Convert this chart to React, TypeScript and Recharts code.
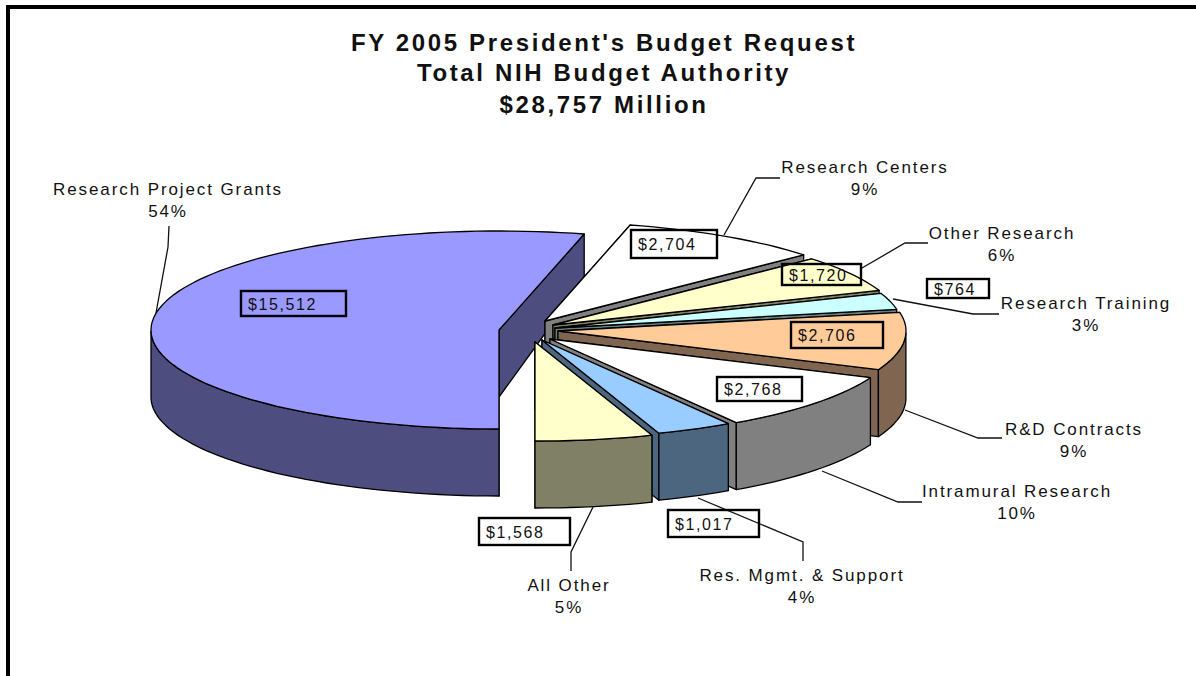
import React from 'react';
import { PieChart, Pie } from 'recharts';

const titleLines = ["FY 2005 President's Budget Request", 'Total NIH Budget Authority', '$28,757 Million'];
const categories = ['Research Project Grants', 'Research Centers', 'Other Research', 'Research Training', 'R&D Contracts', 'Intramural Research', 'Res. Mgmt. & Support', 'All Other'];
const budgetMillions = [15512, 2704, 1720, 764, 2706, 2768, 1017, 1568];
const topColors = ['#9999FF', '#FFFFFF', '#FFFFCC', '#CCFFFF', '#FFCC99', '#FFFFFF', '#99CCFF', '#FFFFCC'];
const sideColors = ['#4D4D80', '#808080', '#808066', '#668080', '#806650', '#808080', '#4D6680', '#808066'];

// Layout only: explosion of every slice relative to the pie centre
const CX = 550;
const CY = 330;
const RX = 348;
const RY = 99;
const explodeX = [-51, -5, 3, 5, 8, 0, -8, -15];
const explodeY = [0, -9, -5, -2, 1, 9, 10, 12];
// Layout only: money boxes [x, y, w, h]
const boxes = [
  [241, 291, 105, 25], [631, 230, 86, 28], [782, 264, 79, 21], [927, 279, 62, 19],
  [791, 322, 92, 26], [717, 377, 85, 24], [668, 510, 91, 27], [479, 518, 91, 27],
];
// Layout only: leader lines and captions
const leaders = [
  '169,226 168,247 156,313', '780,178 756,178 724,235', '928,243 905,243 862,268', '999,314 973,314 893,299',
  '1002,438 978,438 905,410', '922,502 898,502 822,471', '803,561 803,542 698,498', '571,571 571,552 593,507',
];
const captionX = [168, 865, 1002, 1086, 1074, 1017, 802, 569];
const captionY = [189, 167, 233, 303, 429, 491, 575, 585];

const FONT = '"Liberation Sans", Arial, sans-serif';

const depthAt = (y: number) => (y >= 330 ? 67 : Math.max(45, 67 - (22 * (330 - y)) / 98));

function SliceShape(props: any) {
  const { cx, cy, outerRadius, startAngle, endAngle, index } = props;
  const i = index ?? categories.indexOf(props.name);
  const scaleY = RY / RX;
  const ox = cx + explodeX[i];
  const oy = cy + explodeY[i];
  const pt = (deg: number) => {
    const a = (deg * Math.PI) / 180;
    return [ox + outerRadius * Math.cos(a), oy - outerRadius * scaleY * Math.sin(a)];
  };
  const steps = Math.max(2, Math.ceil(Math.abs(endAngle - startAngle) / 2));
  const arc: number[][] = [];
  for (let s = 0; s <= steps; s++) arc.push(pt(startAngle + ((endAngle - startAngle) * s) / steps));
  const low = (p: number[]) => [p[0], p[1] + depthAt(p[1])];
  const str = (ps: number[][]) => ps.map((p) => `${p[0].toFixed(1)},${p[1].toFixed(1)}`).join(' ');
  const apex = [ox, oy];
  const first = arc[0];
  const last = arc[arc.length - 1];
  const frontArc = arc.filter((p) => p[1] >= oy - 1);
  const side = sideColors[i];
  const common = { stroke: '#000', strokeWidth: 1.3, strokeLinejoin: 'round' as const };
  return (
    <g>
      <polygon points={str([apex, first, low(first), low(apex)])} fill={side} {...common} />
      <polygon points={str([apex, last, low(last), low(apex)])} fill={side} {...common} />
      {frontArc.length > 1 && (
        <polygon points={str([...frontArc, ...frontArc.slice().reverse().map(low)])} fill={side} {...common} />
      )}
      <polygon points={str([apex, ...arc])} fill={topColors[i]} {...common} />
    </g>
  );
}

function SliceLabel(props: any) {
  const { index, percent, value } = props;
  const [bx, by, bw, bh] = boxes[index];
  const x = captionX[index];
  const y = captionY[index];
  const txt = { fontFamily: FONT, fontSize: 17, letterSpacing: 1.9, fill: '#111', textAnchor: 'middle' as const };
  return (
    <g>
      <polyline points={leaders[index]} fill="none" stroke="#111" strokeWidth={1.3} />
      <rect x={bx} y={by} width={bw} height={bh} fill="none" stroke="#000" strokeWidth={2.4} />
      <text x={bx + 7} y={by + bh / 2 + 6} fontFamily={FONT} fontSize={16} letterSpacing={1.6} fill="#111">
        {'$' + value.toLocaleString('en-US')}
      </text>
      <text x={x} y={y + 6} {...txt}>{categories[index]}</text>
      <text x={x} y={y + 28} {...txt}>{Math.round(percent * 100) + '%'}</text>
    </g>
  );
}

const tableRows = categories.map((name, i) => ({ name, value: budgetMillions[i] }));

export default function App() {
  return (
    <div style={{ position: 'absolute', left: 0, top: 0, width: 1196, height: 676, background: '#fff', overflow: 'hidden' }}>
      <PieChart width={1196} height={676} margin={{ top: 0, right: 0, bottom: 0, left: 0 }}>
        <rect x={8} y={7} width={1300} height={800} fill="none" stroke="#000" strokeWidth={4} />
        {titleLines.map((t, i) => (
          <text key={t} x={604} y={[51, 81, 113][i]} textAnchor="middle" fontFamily={FONT} fontWeight="bold" fontSize={24} letterSpacing={2.65} fill="#111">
            {t}
          </text>
        ))}
        <Pie
          data={tableRows}
          dataKey="value"
          nameKey="name"
          cx={CX}
          cy={CY}
          innerRadius={0}
          outerRadius={RX}
          startAngle={-90}
          endAngle={-450}
          paddingAngle={0}
          isAnimationActive={false}
          shape={SliceShape}
          activeShape={SliceShape}
          inactiveShape={SliceShape}
          label={SliceLabel}
          labelLine={false}
        />
      </PieChart>
    </div>
  );
}
